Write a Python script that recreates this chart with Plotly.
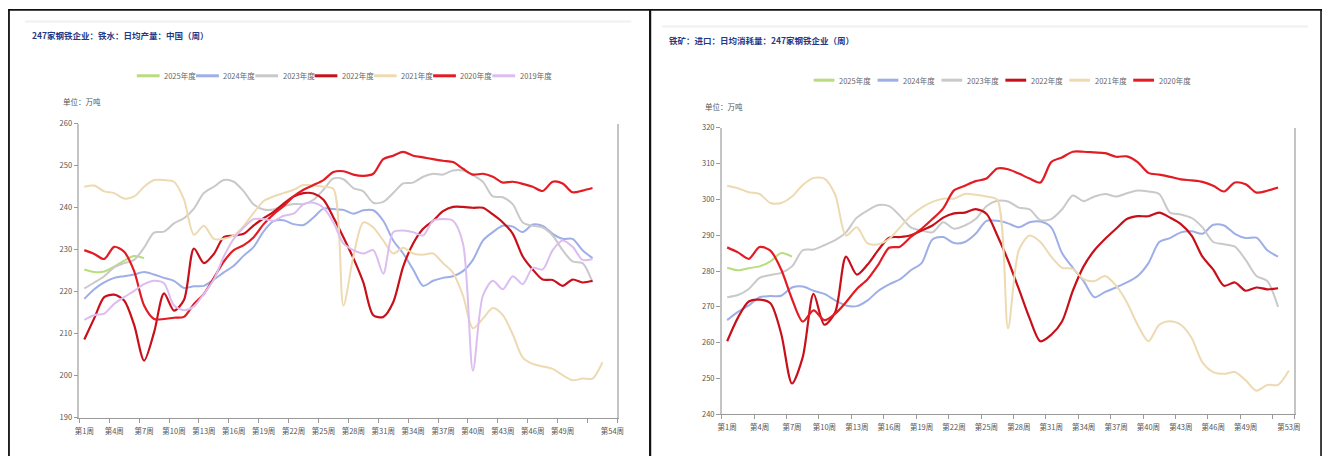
import plotly.graph_objects as go

# ---------------- data: left chart (hot metal daily output, 万吨) ----------------
L_2025 = [225.3, 224.7, 224.8, 226.0, 227.4, 228.5, 228.0]
L_2024 = [218.3, 220.6, 222.2, 223.3, 223.7, 224.1, 224.7, 224.1, 223.3, 222.6,
          220.9, 221.3, 221.4, 222.9, 224.6, 226.2, 228.6, 230.7, 234.4, 236.8,
          237.0, 236.1, 235.9, 237.7, 239.8, 239.7, 239.5, 238.6, 239.4, 239.4,
          236.9, 232.2, 229.1, 225.3, 221.4, 222.6, 223.3, 223.7, 224.9, 227.6,
          232.2, 234.2, 235.7, 235.5, 234.2, 236.0, 235.7, 233.8, 232.6, 232.6,
          229.9, 228.0]
L_2023 = [220.8, 222.2, 223.7, 225.8, 226.8, 227.6, 230.5, 234.1, 234.3, 236.3,
          237.5, 239.8, 243.5, 245.0, 246.6, 246.2, 243.9, 240.8, 239.6, 239.6,
          240.4, 240.9, 240.9, 241.9, 244.3, 247.0, 246.8, 244.7, 243.9, 241.2,
          241.4, 243.5, 245.8, 246.0, 247.4, 248.1, 247.9, 248.9, 248.9, 247.8,
          246.2, 242.7, 242.5, 240.8, 236.5, 235.7, 235.3, 233.4, 229.9, 227.2,
          226.8, 222.2]
L_2022 = [208.6, 213.7, 218.7, 219.3, 217.9, 212.1, 203.6, 210.3, 219.6, 215.5,
          218.0, 230.3, 226.8, 229.0, 233.0, 233.4, 233.8, 235.8, 237.5, 239.0,
          241.0, 242.7, 243.5, 243.4, 241.9, 237.7, 233.0, 228.0, 222.2, 214.4,
          214.0, 217.5, 226.0, 231.5, 235.0, 236.9, 239.2, 240.2, 240.2, 240.0,
          240.0, 238.4, 236.5, 233.8, 228.4, 225.3, 222.9, 222.8, 221.4, 222.9,
          222.2, 222.6]
L_2021 = [245.0, 245.3, 243.9, 243.5, 242.2, 242.7, 245.0, 246.6, 246.6, 246.2,
          242.0, 233.6, 235.7, 232.6, 232.6, 233.4, 235.7, 238.8, 241.6, 242.7,
          243.5, 244.3, 245.4, 245.3, 245.0, 244.5, 216.7, 228.4, 236.5, 235.3,
          232.2, 229.1, 230.5, 229.1, 228.8, 229.1, 226.8, 224.5, 219.1, 211.3,
          213.6, 216.1, 214.4, 209.8, 204.3, 202.8, 202.2, 201.6, 200.1, 198.9,
          199.3, 199.3, 203.2]
L_2020 = [229.9, 229.0, 227.8, 230.7, 229.5, 224.9, 216.7, 213.5, 213.5, 213.8,
          214.0, 217.1, 219.5, 223.3, 227.2, 229.9, 231.1, 233.0, 236.1, 238.5,
          240.4, 242.7, 244.3, 245.4, 246.6, 248.5, 248.7, 247.9, 247.6, 248.1,
          251.6, 252.4, 253.3, 252.4, 252.0, 251.6, 251.2, 250.9, 249.3, 247.9,
          248.1, 247.4, 246.0, 246.2, 245.7, 245.0, 244.0, 246.2, 245.8, 243.7,
          244.1, 244.7]
L_2019 = [213.3, 214.4, 214.8, 217.1, 218.7, 220.2, 221.8, 222.6, 222.0, 216.7,
          215.6, 216.5, 219.5, 222.9, 228.4, 232.6, 235.3, 237.3, 237.3, 236.9,
          238.1, 238.6, 240.8, 241.2, 240.0, 236.5, 231.5, 229.9, 229.1, 229.9,
          224.3, 234.2, 234.6, 234.2, 233.4, 236.9, 237.3, 236.9, 231.5, 201.2,
          219.1, 222.6, 220.6, 223.7, 221.8, 225.7, 225.3, 229.9, 232.2, 230.7,
          227.6, 227.8]

# ---------------- data: right chart (imported ore daily consumption, 万吨) ----------------
R_2025 = [280.9, 280.2, 280.8, 281.3, 282.7, 285.0, 284.0]
R_2024 = [266.3, 268.6, 270.4, 272.7, 273.0, 273.1, 275.4, 275.7, 274.5, 273.6,
          271.8, 270.4, 270.2, 271.8, 274.5, 276.3, 277.7, 280.2, 282.2, 288.8,
          289.5, 287.8, 288.1, 290.4, 294.0, 294.0, 293.3, 292.2, 293.6, 293.8,
          292.2, 285.0, 280.9, 277.2, 272.7, 274.2, 275.4, 276.8, 278.6, 282.2,
          288.1, 289.2, 290.8, 291.1, 290.4, 292.9, 292.7, 290.4, 289.2, 289.3,
          285.8, 284.0]
R_2023 = [272.7, 273.3, 275.0, 278.1, 278.9, 279.5, 281.3, 285.8, 286.0, 287.2,
          288.6, 290.8, 294.9, 296.9, 298.4, 298.1, 295.4, 292.2, 291.3, 290.8,
          293.6, 291.8, 292.7, 294.5, 298.1, 299.6, 299.4, 297.7, 297.2, 294.2,
          294.5, 297.2, 301.1, 299.5, 300.8, 301.5, 300.8, 301.7, 302.5, 302.2,
          301.5, 296.3, 295.8, 294.8, 292.2, 288.1, 287.5, 286.8, 283.1, 278.6,
          277.2, 270.0]
R_2022 = [260.4, 267.0, 271.5, 272.0, 271.0, 262.5, 248.6, 256.0, 273.6, 265.0,
          268.5, 284.0, 279.0, 281.8, 285.9, 289.3, 289.5, 290.0, 291.3, 292.7,
          294.9, 296.1, 296.3, 297.3, 296.0, 290.0, 283.0, 275.0, 266.8, 260.4,
          262.2, 265.9, 274.5, 281.3, 285.8, 289.0, 291.8, 294.5, 295.3, 295.3,
          296.3, 294.9, 293.1, 289.9, 284.0, 280.4, 275.9, 276.8, 274.5, 275.4,
          274.9, 275.2]
R_2021 = [303.8, 303.1, 302.0, 301.5, 299.0, 299.0, 300.8, 304.0, 306.0, 305.8,
          301.3, 289.9, 292.2, 287.7, 287.5, 289.0, 292.2, 295.4, 297.7, 299.3,
          300.2, 300.2, 301.5, 301.3, 300.8, 299.9, 264.0, 285.8, 289.9, 288.1,
          284.0, 280.9, 280.6, 277.7, 277.2, 278.6, 275.9, 271.3, 265.0, 260.4,
          265.0, 266.0, 265.0, 261.3, 254.5, 251.8, 251.3, 251.8, 249.5, 246.6,
          248.2, 248.2, 252.2]
R_2020 = [286.6, 285.2, 283.4, 286.7, 285.7, 280.4, 272.2, 265.9, 269.0, 266.3,
          268.1, 271.3, 275.0, 277.7, 281.8, 286.5, 286.8, 289.5, 291.8, 294.5,
          297.5, 302.5, 303.8, 305.1, 305.8, 308.6, 308.4, 307.2, 305.8, 304.7,
          310.4, 311.7, 313.3, 313.3, 313.1, 312.9, 311.9, 312.0, 310.4, 307.4,
          306.9, 306.3, 305.6, 305.3, 304.9, 303.8, 302.2, 304.7, 304.2, 301.9,
          302.4, 303.3]

YEARS_L = ["2025年度", "2024年度", "2023年度", "2022年度", "2021年度", "2020年度", "2019年度"]
YEARS_R = ["2025年度", "2024年度", "2023年度", "2022年度", "2021年度", "2020年度"]
SERIES_L = [L_2025, L_2024, L_2023, L_2022, L_2021, L_2020, L_2019]
SERIES_R = [R_2025, R_2024, R_2023, R_2022, R_2021, R_2020]

N_WEEKS_L = 54          # categories on left x axis (第1周 … 第54周)
N_WEEKS_R = 53          # categories on right x axis (第1周 … 第53周)
L_LABEL_WEEKS = [1, 4, 7, 10, 13, 16, 19, 22, 25, 28, 31, 34, 37, 40, 43, 46, 49, 54]
R_LABEL_WEEKS = [1, 4, 7, 10, 13, 16, 19, 22, 25, 28, 31, 34, 37, 40, 43, 46, 49, 53]
L_LABEL_TEXT = ["第%d周" % w for w in L_LABEL_WEEKS]
R_LABEL_TEXT = ["第%d周" % w for w in R_LABEL_WEEKS]

TITLE_L = "247家钢铁企业：铁水：日均产量：中国（周）"
TITLE_R = "铁矿：进口：日均消耗量：247家钢铁企业（周）"
UNIT = "单位：万吨"

# ---------------- styles ----------------
COLORS = {
    "2025年度": "#b9dc7c",
    "2024年度": "#9eaee6",
    "2023年度": "#c9c9c9",
    "2022年度": "#c8101a",
    "2021年度": "#eddab2",
    "2020年度": "#e31b23",
    "2019年度": "#dcbdf0",
}
WIDTHS = {"2022年度": 2.2, "2020年度": 2.2}
FONT = "Noto Sans CJK SC, Noto Sans, sans-serif"
W, H = 1330, 461


def px(x):
    return x / W


def py(y):
    return 1 - y / H


fig = go.Figure()

for name, vals in zip(YEARS_L, SERIES_L):
    fig.add_trace(go.Scatter(
        x=list(range(1, len(vals) + 1)), y=vals, mode="lines", name=name,
        line=dict(color=COLORS[name], width=WIDTHS.get(name, 2), shape="spline", smoothing=0.8),
        xaxis="x", yaxis="y", showlegend=False, hoverinfo="x+y+name"))

for name, vals in zip(YEARS_R, SERIES_R):
    fig.add_trace(go.Scatter(
        x=list(range(1, len(vals) + 1)), y=vals, mode="lines", name=name,
        line=dict(color=COLORS[name], width=WIDTHS.get(name, 2), shape="spline", smoothing=0.8),
        xaxis="x2", yaxis="y2", showlegend=False, hoverinfo="x+y+name"))

tickfont = dict(family=FONT, size=7.5, color="#555555")


def xaxis_cfg(n_weeks, label_weeks, label_text, domain, anchor):
    # ticks sit on category boundaries, every 3 weeks, plus the final boundary
    bounds = [w - 0.5 for w in range(1, n_weeks, 3)] + [n_weeks + 0.5]
    return dict(domain=domain, range=[0.5, n_weeks + 0.5], anchor=anchor,
                showgrid=False, zeroline=False, showline=True, linecolor="#9a9a9a", linewidth=1,
                tickmode="array", tickvals=label_weeks, ticktext=label_text,
                ticks="", ticklabelstandoff=6, tickfont=tickfont,
                minor=dict(tickmode="array", tickvals=bounds, ticks="outside", ticklen=4,
                           tickcolor="#9a9a9a", showgrid=False))


ycommon = dict(showgrid=False, zeroline=False, showline=True, linecolor="#c4c4c4", linewidth=1.5,
               ticks="outside", ticklen=4, tickcolor="#9a9a9a", tickfont=tickfont, mirror=True,
               dtick=10)

fig.update_layout(
    width=W, height=H, autosize=False,
    margin=dict(l=0, r=0, t=0, b=0),
    paper_bgcolor="white", plot_bgcolor="white",
    showlegend=False,
    xaxis=xaxis_cfg(N_WEEKS_L, L_LABEL_WEEKS, L_LABEL_TEXT, [px(75), px(618)], "y"),
    yaxis=dict(domain=[py(421.7), py(120.7)], range=[190, 260], anchor="x",
               tick0=190, **ycommon),
    xaxis2=xaxis_cfg(N_WEEKS_R, R_LABEL_WEEKS, R_LABEL_TEXT, [px(723.3), px(1301)], "y2"),
    yaxis2=dict(domain=[py(418.3), py(124.7)], range=[240, 320], anchor="x2",
                tick0=240, **ycommon),
)

shapes = []
annotations = []

# panel frames
for (x0, y0, x1, y1, w) in [(3, 4, 1329, 4, 1.8), (4, 4, 4, 461, 1.8),
                            (651, 4, 651, 461, 2.2), (1328, 4, 1328, 461, 1.6)]:
    shapes.append(dict(type="line", xref="paper", yref="paper", x0=px(x0), y0=py(y0),
                       x1=px(x1), y1=py(y1), line=dict(color="#111111", width=w)))
# faint separators under panel tops
for (x0, x1, y) in [(20, 632, 16), (663, 1315, 21)]:
    shapes.append(dict(type="line", xref="paper", yref="paper", x0=px(x0), y0=py(y),
                       x1=px(x1), y1=py(y), line=dict(color="#f0f0f0", width=2)))

# titles
annotations.append(dict(text="<b>%s</b>" % TITLE_L, x=px(25), y=py(30), xref="paper", yref="paper",
                        xanchor="left", yanchor="middle", showarrow=False,
                        font=dict(family=FONT, size=8.5, color="#1f3a86")))
annotations.append(dict(text="<b>%s</b>" % TITLE_R, x=px(668), y=py(35), xref="paper", yref="paper",
                        xanchor="left", yanchor="middle", showarrow=False,
                        font=dict(family=FONT, size=8.5, color="#1f3a86")))
# unit labels
annotations.append(dict(text=UNIT, x=px(57), y=py(98), xref="paper", yref="paper",
                        xanchor="left", yanchor="middle", showarrow=False,
                        font=dict(family=FONT, size=7.5, color="#555555")))
annotations.append(dict(text=UNIT, x=px(704), y=py(103), xref="paper", yref="paper",
                        xanchor="left", yanchor="middle", showarrow=False,
                        font=dict(family=FONT, size=7.5, color="#555555")))


# legends (drawn manually to match compact spacing)
def legend(names, x_start, pitch, sym_w, y):
    for i, name in enumerate(names):
        x0 = x_start + i * pitch
        shapes.append(dict(type="line", xref="paper", yref="paper", x0=px(x0), y0=py(y),
                           x1=px(x0 + sym_w), y1=py(y),
                           line=dict(color=COLORS[name], width=3)))
        annotations.append(dict(text=name, x=px(x0 + sym_w + 2.5), y=py(y), xref="paper",
                                yref="paper", xanchor="left", yanchor="middle", showarrow=False,
                                font=dict(family=FONT, size=7.5, color="#666666")))


legend(YEARS_L, 133, 59.8, 23, 71.5)
legend(YEARS_R, 816, 64.5, 21, 76)

fig.update_layout(shapes=shapes, annotations=annotations)

fig.write_html("out.html",
               config={"displayModeBar": False},
               post_script="document.body.style.margin='0';document.body.style.overflow='hidden';")
